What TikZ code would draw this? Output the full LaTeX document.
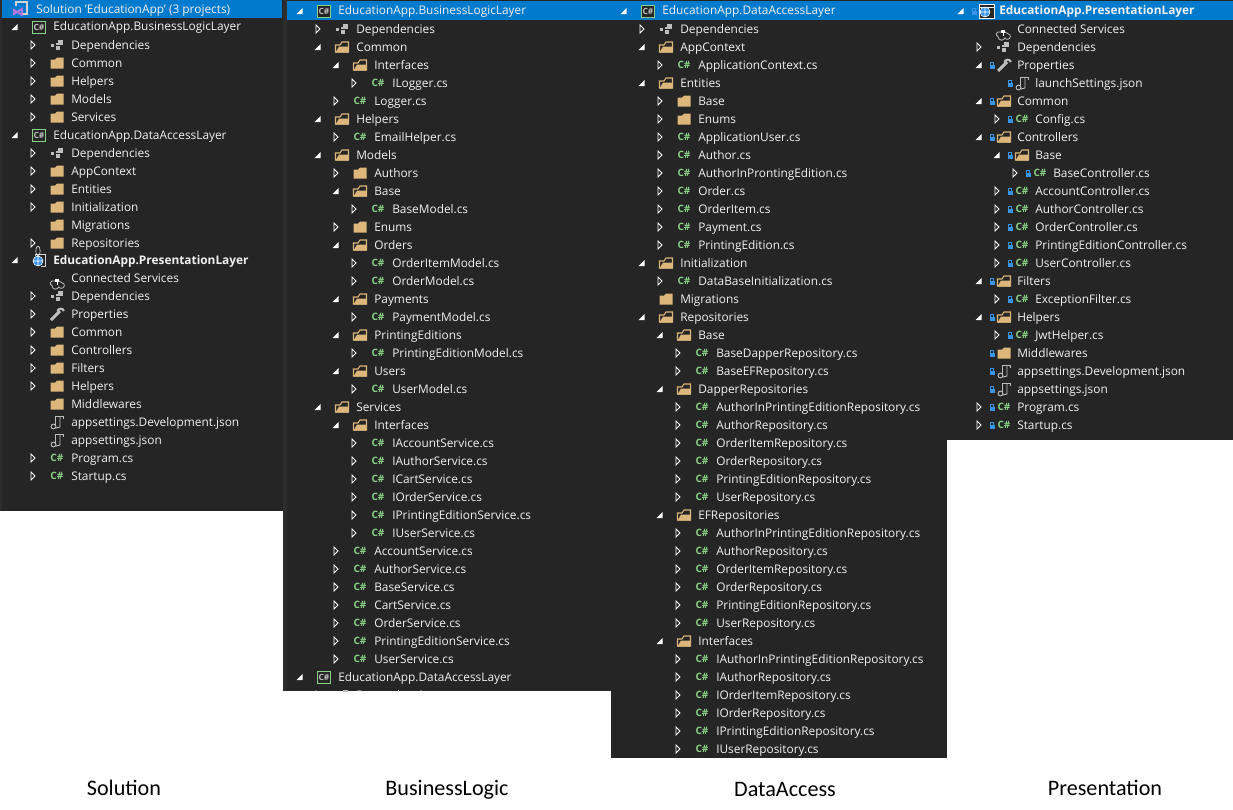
\documentclass[tikz,border=0pt]{standalone}
\usepackage{fontspec}
\setmainfont{Open Sans}
\newfontfamily\capfont{Carlito}
\usetikzlibrary{positioning}
\definecolor{panelBg}   {RGB}{ 37, 37, 38}
\definecolor{gutterBg}  {RGB}{ 45, 45, 48}
\definecolor{rowBlue}   {RGB}{  0,122,204}
\definecolor{rowText}   {RGB}{241,241,241}
\definecolor{folderTan} {RGB}{220,182,122}
\definecolor{csGreen}   {RGB}{137,209,133}
\definecolor{iconGray}  {RGB}{190,190,190}
\definecolor{lockBlue}  {RGB}{ 55,148,230}
\definecolor{slnPurple} {RGB}{176,120,220}
\tikzset{
  panel/.style={fill=panelBg, draw=none},
  selrow/.style={fill=rowBlue, draw=none},
  rowtxt/.style={
    anchor=base west, inner sep=0pt, text=rowText,
    font=\fontsize{8.9}{11}\selectfont
  },
  rowbold/.style={rowtxt, font=\fontsize{8.9}{11}\selectfont\bfseries},
  caption/.style={
    anchor=base, inner sep=0pt, text=black,
    font=\capfont\fontsize{16.6}{20}\selectfont
  },
  %% expanders
  noexp/.pic={},
  expO/.pic={\fill[white] (-3.5,3) -- (2.5,3) -- (2.5,-3) -- cycle;},
  expC/.pic={\draw[white, line width=0.7pt] (-2,-4) -- (2,0) -- (-2,4) -- cycle;},
  %% folders
  folderC/.pic={
    \fill[folderTan] (-6.5,5.5) -- (6.5,5.5) -- (6.5,-5.5) -- (0,-5.5)
      -- (-2,-3.5) -- (-6.5,-3.5) -- cycle;
  },
  folderO/.pic={
    \draw[folderTan, line width=0.8pt] (-6.5,5) -- (-6.5,-2) -- (-2,-2) -- (0,-5)
      -- (6.5,-5) -- (6.5,5) -- cycle;
    \fill[folderTan] (-6.5,5.5) -- (-3,-0.5) -- (6.5,-0.5) -- (6.5,5.5) -- cycle;
  },
  %% source file and project
  csfile/.pic={
    \node[text=csGreen, inner sep=0pt, font=\fontsize{7.6}{8}\selectfont\bfseries] (cs) {C\#};
  },
  csproj/.pic={
    \draw[csGreen, line width=0.7pt, fill=panelBg] (-6.5,-6) rectangle (6.5,6);
    \node[text=iconGray, inner sep=0pt, font=\fontsize{6.4}{7}\selectfont\bfseries] (cs) {C\#};
  },
  %% dependencies
  depic/.pic={
    \fill[iconGray] (1,-5) rectangle (6,0);
    \fill[iconGray] (-6,-1) rectangle (-3,2);
    \fill[iconGray] (-1,-2) rectangle (1,0);
    \fill[iconGray] (-1,1) rectangle (3,5);
  },
  wrenchic/.pic={
    \draw[iconGray, line width=2.2pt] (-6,6) -- (3,-3);
    \draw[iconGray, line width=1.6pt] (0.5,-2.5) arc (180:350:3.2 and 2.8);
  },
  cloudic/.pic={
    \draw[iconGray, line width=0.6pt] (-2,3) -- (-5,3) arc (250:110:2.5) arc (180:20:3.5)
      arc (150:-90:3) -- (2,3);
    \fill[white] (-2,1) rectangle (2,4);
    \draw[white, line width=0.7pt] (0,4) -- (0,7);
  },
  jsonic/.pic={
    \draw[iconGray, line width=0.7pt] (-2,4) -- (-2,-6) -- (6,-6) -- (6,-3);
    \draw[iconGray, line width=0.7pt] (3,-6) -- (3,5) -- (-1,6);
    \draw[iconGray, line width=0.7pt] (-3.5,4.5) circle (2.4);
  },
  lck/.pic={
    \fill[lockBlue] (-2.5,-0.5) rectangle (2.5,4);
    \draw[lockBlue, line width=0.7pt] (-1.5,-0.5) -- (-1.5,-3) -- (1.5,-3) -- (1.5,-0.5);
  },
  webproj/.pic={
    \draw[iconGray!70, line width=0.7pt] (-4,-4.5) -- (-4,-6) -- (6.5,-6) -- (6.5,6) -- (2,6);
    \fill[lockBlue] (-1,1) circle (5);
    \draw[white, line width=0.4pt] (-1,1) circle (5) (-6,1) -- (4,1) (-1,-4) -- (-1,6)
      (-1,-4) arc (90:270:2.2 and 5) (-1,-4) arc (90:-90:2.2 and 5);
  },
  webprojS/.pic={
    \fill[panelBg] (-7,-6.5) rectangle (8,7);
    \draw[rowText, line width=0.7pt] (-7,-6.5) rectangle (8,7) (-7,-4) -- (8,-4);
    \fill[lockBlue] (-1,1) circle (5);
    \draw[white, line width=0.4pt] (-1,1) circle (5) (-6,1) -- (4,1) (-1,-4) -- (-1,6);
  },
  slnic/.pic={
    \draw[iconGray!70, line width=0.8pt] (-4,-3) -- (-4,-7) -- (7,-7) -- (7,5) -- (3,5);
    \draw[slnPurple, line width=1.4pt] (-6,0) -- (-6,6) (-6,1) -- (2,6) -- (2,0) -- (-6,5);
  }
}
\newcommand{\treerow}[6]{%
  \pic at ({\panelX+18*#2},#3) {#4};
  \pic at ({\panelX+18*#2+24},#3) {#5};
  \node[rowtxt] (#1) at ({\panelX+18*#2+38},#3+4) {#6};
}
\newcommand{\lockrow}[6]{%
  \pic at ({\panelX+18*#2},#3) {#4};
  \pic at ({\panelX+18*#2+13},#3) {lck};
  \pic at ({\panelX+18*#2+25},#3) {#5};
  \node[rowtxt] (#1) at ({\panelX+18*#2+38},#3+4) {#6};
}
\begin{document}
\begin{tikzpicture}[x=0.75pt, y=-0.75pt]
\useasboundingbox (0,0) rectangle (1233,810);

%% ═══════════════════════════════════════════════════════════
%%  PANEL BACKGROUNDS
%% ═══════════════════════════════════════════════════════════

\fill[white] (0,0) rectangle (1233,810);
\fill[gutterBg] (0,0) rectangle (283,511);
\fill[panel] (2,0) rectangle (283,511);
\fill[selrow] (2,0) rectangle (282,18);
\fill[gutterBg] (283,0) rectangle (611,691);
\fill[panel] (287,0) rectangle (611,691);
\fill[selrow] (287,1) rectangle (611,20);
\fill[panel] (611,0) rectangle (947,758);
\fill[selrow] (611,1) rectangle (947,20);
\fill[panel] (947,0) rectangle (1233,440);
\fill[selrow] (947,1) rectangle (1233,20);

%% ═══════════════════════════════════════════════════════════
%%  SOLUTION
%% ═══════════════════════════════════════════════════════════

\def\panelX{15}
\pic at (20,9) {slnic};
\node[rowtxt] (sol0) at (36,13) {Solution 'EducationApp' (3 projects)};
\treerow{sol1}{0}{27}{expO}{csproj}{EducationApp.BusinessLogicLayer}
\treerow{sol2}{1}{45}{expC}{depic}{Dependencies}
\treerow{sol3}{1}{63}{expC}{folderC}{Common}
\treerow{sol4}{1}{81}{expC}{folderC}{Helpers}
\treerow{sol5}{1}{99}{expC}{folderC}{Models}
\treerow{sol6}{1}{117}{expC}{folderC}{Services}
\treerow{sol7}{0}{135}{expO}{csproj}{EducationApp.DataAccessLayer}
\treerow{sol8}{1}{153}{expC}{depic}{Dependencies}
\treerow{sol9}{1}{171}{expC}{folderC}{AppContext}
\treerow{sol10}{1}{189}{expC}{folderC}{Entities}
\treerow{sol11}{1}{207}{expC}{folderC}{Initialization}
\treerow{sol12}{1}{225}{noexp}{folderC}{Migrations}
\treerow{sol13}{1}{243}{expC}{folderC}{Repositories}
\treerow{sol14}{0}{260}{expO}{webproj}{\textbf{EducationApp.PresentationLayer}}
\treerow{sol15}{1}{278}{noexp}{cloudic}{Connected Services}
\treerow{sol16}{1}{296}{expC}{depic}{Dependencies}
\treerow{sol17}{1}{314}{expC}{wrenchic}{Properties}
\treerow{sol18}{1}{332}{expC}{folderC}{Common}
\treerow{sol19}{1}{350}{expC}{folderC}{Controllers}
\treerow{sol20}{1}{368}{expC}{folderC}{Filters}
\treerow{sol21}{1}{386}{expC}{folderC}{Helpers}
\treerow{sol22}{1}{404}{noexp}{folderC}{Middlewares}
\treerow{sol23}{1}{422}{noexp}{jsonic}{appsettings.Development.json}
\treerow{sol24}{1}{440}{noexp}{jsonic}{appsettings.json}
\treerow{sol25}{1}{458}{expC}{csfile}{Program.cs}
\treerow{sol26}{1}{476}{expC}{csfile}{Startup.cs}

%% ═══════════════════════════════════════════════════════════
%%  BUSINESS LOGIC  (last row is cut off by the panel edge)
%% ═══════════════════════════════════════════════════════════

\def\panelX{300}
\treerow{bl0}{0}{11}{expO}{csproj}{EducationApp.BusinessLogicLayer}
\treerow{bl1}{1}{29}{expC}{depic}{Dependencies}
\treerow{bl2}{1}{47}{expO}{folderO}{Common}
\treerow{bl3}{2}{65}{expO}{folderO}{Interfaces}
\treerow{bl4}{3}{83}{expC}{csfile}{ILogger.cs}
\treerow{bl5}{2}{101}{expC}{csfile}{Logger.cs}
\treerow{bl6}{1}{119}{expO}{folderO}{Helpers}
\treerow{bl7}{2}{137}{expC}{csfile}{EmailHelper.cs}
\treerow{bl8}{1}{155}{expO}{folderO}{Models}
\treerow{bl9}{2}{173}{expC}{folderC}{Authors}
\treerow{bl10}{2}{191}{expO}{folderO}{Base}
\treerow{bl11}{3}{209}{expC}{csfile}{BaseModel.cs}
\treerow{bl12}{2}{227}{expC}{folderC}{Enums}
\treerow{bl13}{2}{245}{expO}{folderO}{Orders}
\treerow{bl14}{3}{263}{expC}{csfile}{OrderItemModel.cs}
\treerow{bl15}{3}{281}{expC}{csfile}{OrderModel.cs}
\treerow{bl16}{2}{299}{expO}{folderO}{Payments}
\treerow{bl17}{3}{317}{expC}{csfile}{PaymentModel.cs}
\treerow{bl18}{2}{335}{expO}{folderO}{PrintingEditions}
\treerow{bl19}{3}{353}{expC}{csfile}{PrintingEditionModel.cs}
\treerow{bl20}{2}{371}{expO}{folderO}{Users}
\treerow{bl21}{3}{389}{expC}{csfile}{UserModel.cs}
\treerow{bl22}{1}{407}{expO}{folderO}{Services}
\treerow{bl23}{2}{425}{expO}{folderO}{Interfaces}
\treerow{bl24}{3}{443}{expC}{csfile}{IAccountService.cs}
\treerow{bl25}{3}{461}{expC}{csfile}{IAuthorService.cs}
\treerow{bl26}{3}{479}{expC}{csfile}{ICartService.cs}
\treerow{bl27}{3}{497}{expC}{csfile}{IOrderService.cs}
\treerow{bl28}{3}{515}{expC}{csfile}{IPrintingEditionService.cs}
\treerow{bl29}{3}{533}{expC}{csfile}{IUserService.cs}
\treerow{bl30}{2}{551}{expC}{csfile}{AccountService.cs}
\treerow{bl31}{2}{569}{expC}{csfile}{AuthorService.cs}
\treerow{bl32}{2}{587}{expC}{csfile}{BaseService.cs}
\treerow{bl33}{2}{605}{expC}{csfile}{CartService.cs}
\treerow{bl34}{2}{623}{expC}{csfile}{OrderService.cs}
\treerow{bl35}{2}{641}{expC}{csfile}{PrintingEditionService.cs}
\treerow{bl36}{2}{659}{expC}{csfile}{UserService.cs}
\treerow{bl37}{0}{677}{expO}{csproj}{EducationApp.DataAccessLayer}
\begin{scope}
  \clip (283,680) rectangle (611,691);
  \treerow{bl38}{1}{695}{expC}{depic}{Dependencies}
\end{scope}

%% ═══════════════════════════════════════════════════════════
%%  DATA ACCESS
%% ═══════════════════════════════════════════════════════════

\def\panelX{624}
\treerow{da0}{0}{11}{expO}{csproj}{EducationApp.DataAccessLayer}
\treerow{da1}{1}{29}{expC}{depic}{Dependencies}
\treerow{da2}{1}{47}{expO}{folderO}{AppContext}
\treerow{da3}{2}{65}{expC}{csfile}{ApplicationContext.cs}
\treerow{da4}{1}{83}{expO}{folderO}{Entities}
\treerow{da5}{2}{101}{expC}{folderC}{Base}
\treerow{da6}{2}{119}{expC}{folderC}{Enums}
\treerow{da7}{2}{137}{expC}{csfile}{ApplicationUser.cs}
\treerow{da8}{2}{155}{expC}{csfile}{Author.cs}
\treerow{da9}{2}{173}{expC}{csfile}{AuthorInProntingEdition.cs}
\treerow{da10}{2}{191}{expC}{csfile}{Order.cs}
\treerow{da11}{2}{209}{expC}{csfile}{OrderItem.cs}
\treerow{da12}{2}{227}{expC}{csfile}{Payment.cs}
\treerow{da13}{2}{245}{expC}{csfile}{PrintingEdition.cs}
\treerow{da14}{1}{263}{expO}{folderO}{Initialization}
\treerow{da15}{2}{281}{expC}{csfile}{DataBaseInitialization.cs}
\treerow{da16}{1}{299}{noexp}{folderC}{Migrations}
\treerow{da17}{1}{317}{expO}{folderO}{Repositories}
\treerow{da18}{2}{335}{expO}{folderO}{Base}
\treerow{da19}{3}{353}{expC}{csfile}{BaseDapperRepository.cs}
\treerow{da20}{3}{371}{expC}{csfile}{BaseEFRepository.cs}
\treerow{da21}{2}{389}{expO}{folderO}{DapperRepositories}
\treerow{da22}{3}{407}{expC}{csfile}{AuthorInPrintingEditionRepository.cs}
\treerow{da23}{3}{425}{expC}{csfile}{AuthorRepository.cs}
\treerow{da24}{3}{443}{expC}{csfile}{OrderItemRepository.cs}
\treerow{da25}{3}{461}{expC}{csfile}{OrderRepository.cs}
\treerow{da26}{3}{479}{expC}{csfile}{PrintingEditionRepository.cs}
\treerow{da27}{3}{497}{expC}{csfile}{UserRepository.cs}
\treerow{da28}{2}{515}{expO}{folderO}{EFRepositories}
\treerow{da29}{3}{533}{expC}{csfile}{AuthorInPrintingEditionRepository.cs}
\treerow{da30}{3}{551}{expC}{csfile}{AuthorRepository.cs}
\treerow{da31}{3}{569}{expC}{csfile}{OrderItemRepository.cs}
\treerow{da32}{3}{587}{expC}{csfile}{OrderRepository.cs}
\treerow{da33}{3}{605}{expC}{csfile}{PrintingEditionRepository.cs}
\treerow{da34}{3}{623}{expC}{csfile}{UserRepository.cs}
\treerow{da35}{2}{641}{expO}{folderO}{Interfaces}
\treerow{da36}{3}{659}{expC}{csfile}{IAuthorInPrintingEditionRepository.cs}
\treerow{da37}{3}{677}{expC}{csfile}{IAuthorRepository.cs}
\treerow{da38}{3}{695}{expC}{csfile}{IOrderItemRepository.cs}
\treerow{da39}{3}{713}{expC}{csfile}{IOrderRepository.cs}
\treerow{da40}{3}{731}{expC}{csfile}{IPrintingEditionRepository.cs}
\treerow{da41}{3}{749}{expC}{csfile}{IUserRepository.cs}

%% ═══════════════════════════════════════════════════════════
%%  PRESENTATION
%% ═══════════════════════════════════════════════════════════

\def\panelX{961}
\pic at (961,11) {expO};
\pic at (974,11) {lck};
\pic at (986,11) {webprojS};
\node[rowbold] (pr0) at (999,15) {EducationApp.PresentationLayer};
\treerow{pr1}{1}{29}{noexp}{cloudic}{Connected Services}
\treerow{pr2}{1}{47}{expC}{depic}{Dependencies}
\lockrow{pr3}{1}{65}{expO}{wrenchic}{Properties}
\lockrow{pr4}{2}{83}{noexp}{jsonic}{launchSettings.json}
\lockrow{pr5}{1}{101}{expO}{folderO}{Common}
\lockrow{pr6}{2}{119}{expC}{csfile}{Config.cs}
\lockrow{pr7}{1}{137}{expO}{folderO}{Controllers}
\lockrow{pr8}{2}{155}{expO}{folderO}{Base}
\lockrow{pr9}{3}{173}{expC}{csfile}{BaseController.cs}
\lockrow{pr10}{2}{191}{expC}{csfile}{AccountController.cs}
\lockrow{pr11}{2}{209}{expC}{csfile}{AuthorController.cs}
\lockrow{pr12}{2}{227}{expC}{csfile}{OrderController.cs}
\lockrow{pr13}{2}{245}{expC}{csfile}{PrintingEditionController.cs}
\lockrow{pr14}{2}{263}{expC}{csfile}{UserController.cs}
\lockrow{pr15}{1}{281}{expO}{folderO}{Filters}
\lockrow{pr16}{2}{299}{expC}{csfile}{ExceptionFilter.cs}
\lockrow{pr17}{1}{317}{expO}{folderO}{Helpers}
\lockrow{pr18}{2}{335}{expC}{csfile}{JwtHelper.cs}
\lockrow{pr19}{1}{353}{noexp}{folderC}{Middlewares}
\lockrow{pr20}{1}{371}{noexp}{jsonic}{appsettings.Development.json}
\lockrow{pr21}{1}{389}{noexp}{jsonic}{appsettings.json}
\lockrow{pr22}{1}{407}{expC}{csfile}{Program.cs}
\lockrow{pr23}{1}{425}{expC}{csfile}{Startup.cs}

%% ═══════════════════════════════════════════════════════════
%%  CAPTIONS
%% ═══════════════════════════════════════════════════════════

\node[caption] (capSol) at (124,795) {Solution};
\node[caption] (capBl)  at (447,795) {BusinessLogic};
\node[caption] (capDa)  at (785,796) {DataAccess};
\node[caption] (capPr)  at (1105,795) {Presentation};

\end{tikzpicture}
\end{document}
